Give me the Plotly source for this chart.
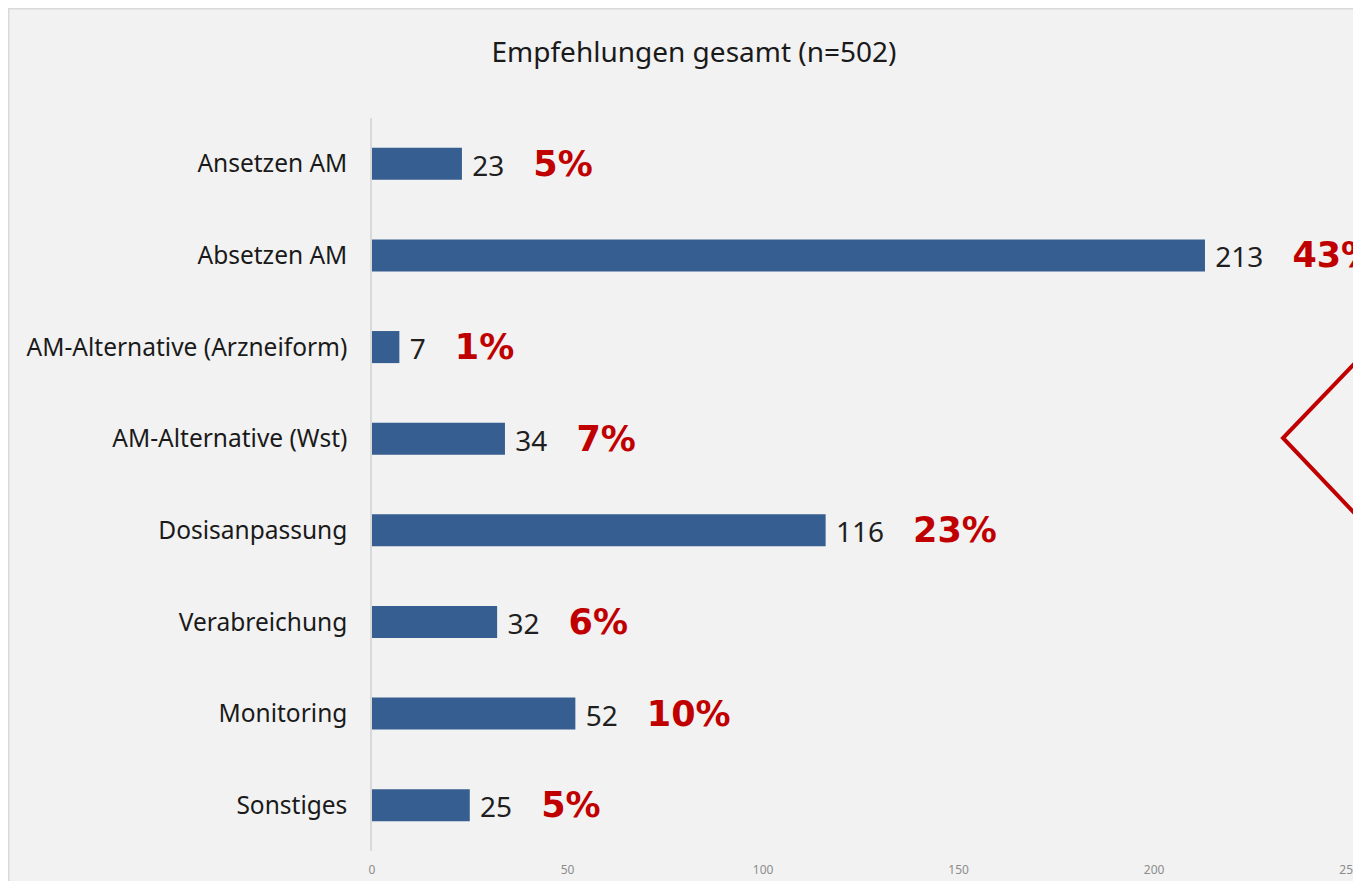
import plotly.graph_objects as go

categories = ["Ansetzen AM", "Absetzen AM", "AM-Alternative (Arzneiform)", "AM-Alternative (Wst)",
              "Dosisanpassung", "Verabreichung", "Monitoring", "Sonstiges"]
values = [23, 213, 7, 34, 116, 32, 52, 25]
percents = [5, 43, 1, 7, 23, 6, 10, 5]
x_ticks = [0, 50, 100, 150, 200, 250]
title_text = "Empfehlungen gesamt (n=502)"

NB = "\u00a0"
labels = [
    f"{NB}{v}{NB*4}<span style='font-family:DejaVu Sans;font-size:35px;fill:#c00000'><b>{p}%</b></span>"
    for v, p in zip(values, percents)
]

# page body has an 8px margin; figure fills the rest of the 1361x889 window
OFF = 8
W, H = 1361 - OFF, 889 - 2 * OFF
ML, MR, MT = 372 - OFF, 0, 118 - OFF
MB = H - (851 - OFF)
pw, ph = W - ML - MR, H - MT - MB

def px(x):  # page pixel -> paper x
    return (x - OFF - ML) / pw

def py(y):  # page pixel -> paper y
    return (H - MB - (y - OFF)) / ph

fig = go.Figure(go.Bar(
    y=categories, x=values, orientation="h",
    marker=dict(color="#365e91", line=dict(width=0)),
    text=labels, textposition="outside", constraintext="none", cliponaxis=False,
    textfont=dict(family="Noto Sans", size=28, color="#1f1f1f"),
    hoverinfo="skip",
))

fig.update_layout(
    width=W, height=H,
    margin=dict(l=ML, r=MR, t=MT, b=MB),
    paper_bgcolor="#f2f2f2", plot_bgcolor="#f2f2f2",
    bargap=0.65, showlegend=False,
    title=dict(text=title_text, x=(694 - OFF) / W, xref="container", xanchor="center",
               y=1 - (52 - OFF) / H, yref="container", yanchor="middle",
               font=dict(family="Noto Sans", size=28, color="#1a1a1a")),
    xaxis=dict(range=[0, 252.9], tickvals=x_ticks, showgrid=False, zeroline=False,
               showline=False, ticks="", ticklabelstandoff=10,
               tickfont=dict(family="Noto Sans", size=12, color="#8c8c8c")),
    yaxis=dict(autorange="reversed", showline=True, linecolor="#d9d9d9", linewidth=1.5,
               showgrid=False, zeroline=False, ticks="", ticklabelstandoff=18,
               tickfont=dict(family="Noto Sans", size=24.5, color="#1a1a1a")),
    shapes=[
        dict(type="rect", xref="paper", yref="paper", layer="below",
             x0=px(8.7), x1=1.05, y0=-0.1, y1=py(8.7),
             fillcolor="rgba(0,0,0,0)", line=dict(color="#d9d9d9", width=1.5)),
        dict(type="path", xref="paper", yref="paper", layer="above",
             path=f"M {px(1380)},{py(337)} L {px(1283)},{py(438)} L {px(1380)},{py(540)}",
             line=dict(color="#c00000", width=4)),
    ],
)

fig.write_html("out.html")
